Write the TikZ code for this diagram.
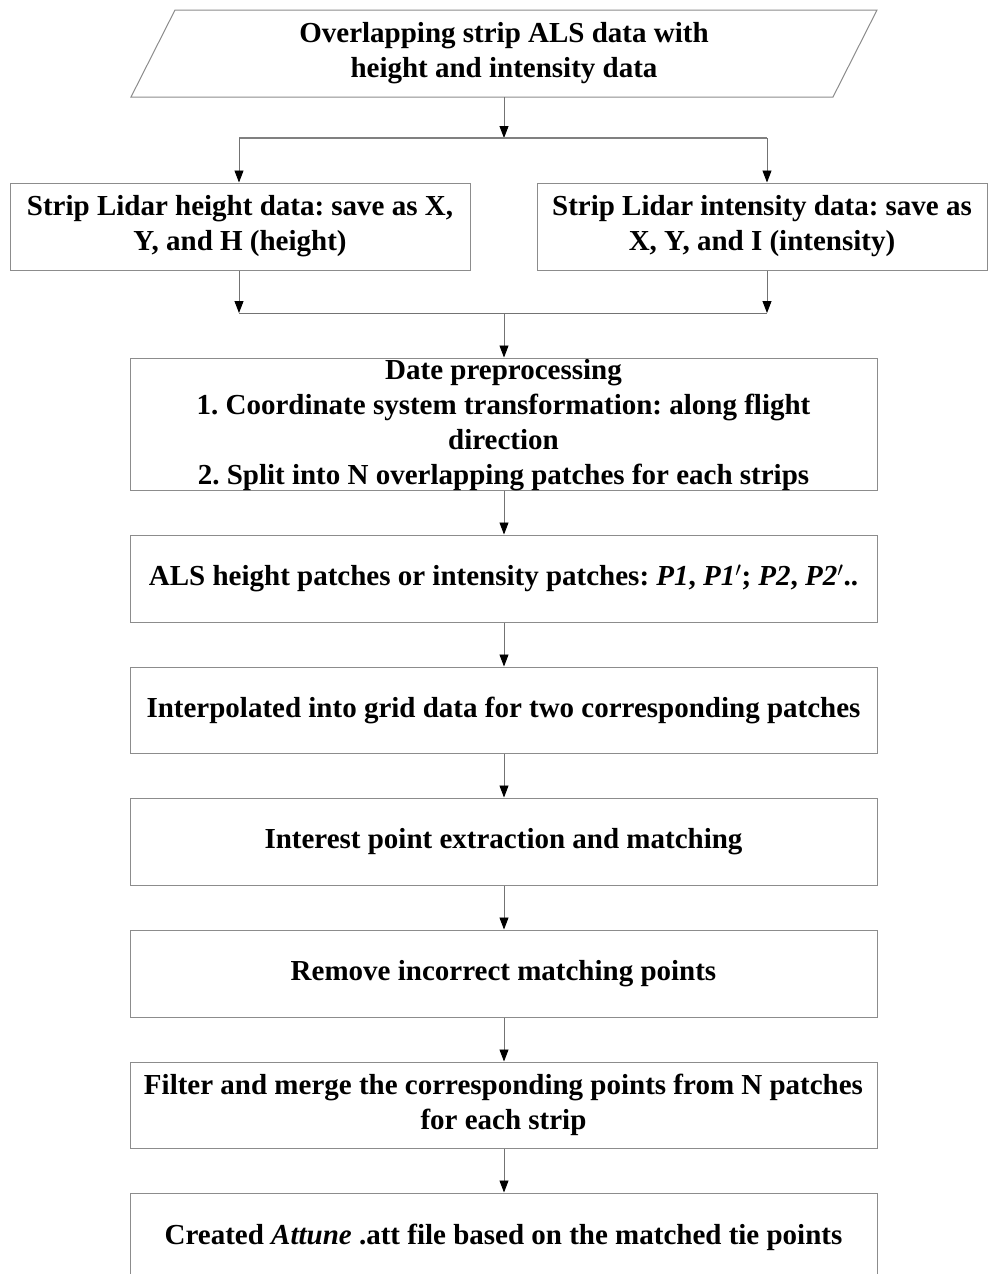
\documentclass[tikz,border=0pt]{standalone}
\usepackage{fontspec}
\setmainfont{Liberation Serif}
\usetikzlibrary{arrows.meta}
\frenchspacing
\begin{document}
\begin{tikzpicture}[x=1pt,y=-1pt,
  txt/.style={font=\frenchspacing\bfseries\fontsize{29}{35}\selectfont, align=center, text=black},
  box/.style={txt, draw=black!45, line width=1pt, inner xsep=4pt, inner ysep=0pt},
  arr/.style={draw=black!55, line width=0.9pt, -{Triangle[length=12pt,width=9pt,black]}},
  ln/.style={draw=black!55, line width=0.9pt}]
\useasboundingbox (0,0) rectangle (990,1274);
\clip (0,0) rectangle (990,1274);
\fill[white] (0,0) rectangle (990,1274);

% input parallelogram
\node[txt, minimum width=702, minimum height=87, inner sep=0pt] (input) at (504,53.5)
  {Overlapping strip ALS data with\\height and intensity data};
\draw[draw=black!45, line width=1pt] (175,10) -- (877,10) -- (833,97) -- (131,97) -- cycle;

% split
\coordinate (sT) at (504,138);
\coordinate (sL) at (239,138);
\coordinate (sR) at (767,138);

\node[box, minimum width=460, minimum height=87] (hgt) at (240,226.5)
  {Strip Lidar height data: save as X,\\Y, and H (height)};
\node[box, minimum width=450, minimum height=87] (int) at (762,226.5)
  {Strip Lidar intensity data: save as\\X, Y, and I (intensity)};

\coordinate (mL) at (239,313);
\coordinate (mR) at (767,313);
\coordinate (mC) at (504,313);

\node[box, minimum width=747, minimum height=132] (pre) at (503.5,424) {};
\node[txt, inner sep=0pt] (pretxt) at (503.5,425)
  {Date preprocessing\\1. Coordinate system transformation: along flight\\direction\\2. Split into N overlapping patches for each strips};
\node[box, minimum width=747, minimum height=87] (als) at (503.5,578.5)
  {ALS height patches or intensity patches: \textit{P1}, \textit{P1$'$}; \textit{P2}, \textit{P2$'$}..};
\node[box, minimum width=747, minimum height=86] (interp) at (503.5,710)
  {Interpolated into grid data for two corresponding patches};
\node[box, minimum width=747, minimum height=87] (ip) at (503.5,841.5)
  {Interest point extraction and matching};
\node[box, minimum width=747, minimum height=87] (rm) at (503.5,973.5)
  {Remove incorrect matching points};
\node[box, minimum width=747, minimum height=86] (flt) at (503.5,1105)
  {Filter and merge the corresponding points from N patches\\for each strip};
\node[box, minimum width=747, minimum height=174] (att) at (503.5,1280)
  {};
\node[txt] (attxt) at (503.5,1237) {Created \textit{Attune} .att file based on the matched tie points};

% connectors
\draw[arr] (input.south) -- (sT);
\draw[ln, line width=1.6pt, draw=black!50] (sL) -- (sR);
\draw[arr] (sL) -- (sL |- hgt.north);
\draw[arr] (sR) -- (sR |- int.north);
\draw[arr] (sL |- hgt.south) -- (mL);
\draw[arr] (sR |- int.south) -- (mR);
\draw[ln] (mL) -- (mR);
\draw[arr] (mC) -- (mC |- pre.north);
\draw[arr] (mC |- pre.south) -- (mC |- als.north);
\draw[arr] (mC |- als.south) -- (mC |- interp.north);
\draw[arr] (mC |- interp.south) -- (mC |- ip.north);
\draw[arr] (mC |- ip.south) -- (mC |- rm.north);
\draw[arr] (mC |- rm.south) -- (mC |- flt.north);
\draw[arr] (mC |- flt.south) -- (mC |- att.north);
\end{tikzpicture}
\end{document}
